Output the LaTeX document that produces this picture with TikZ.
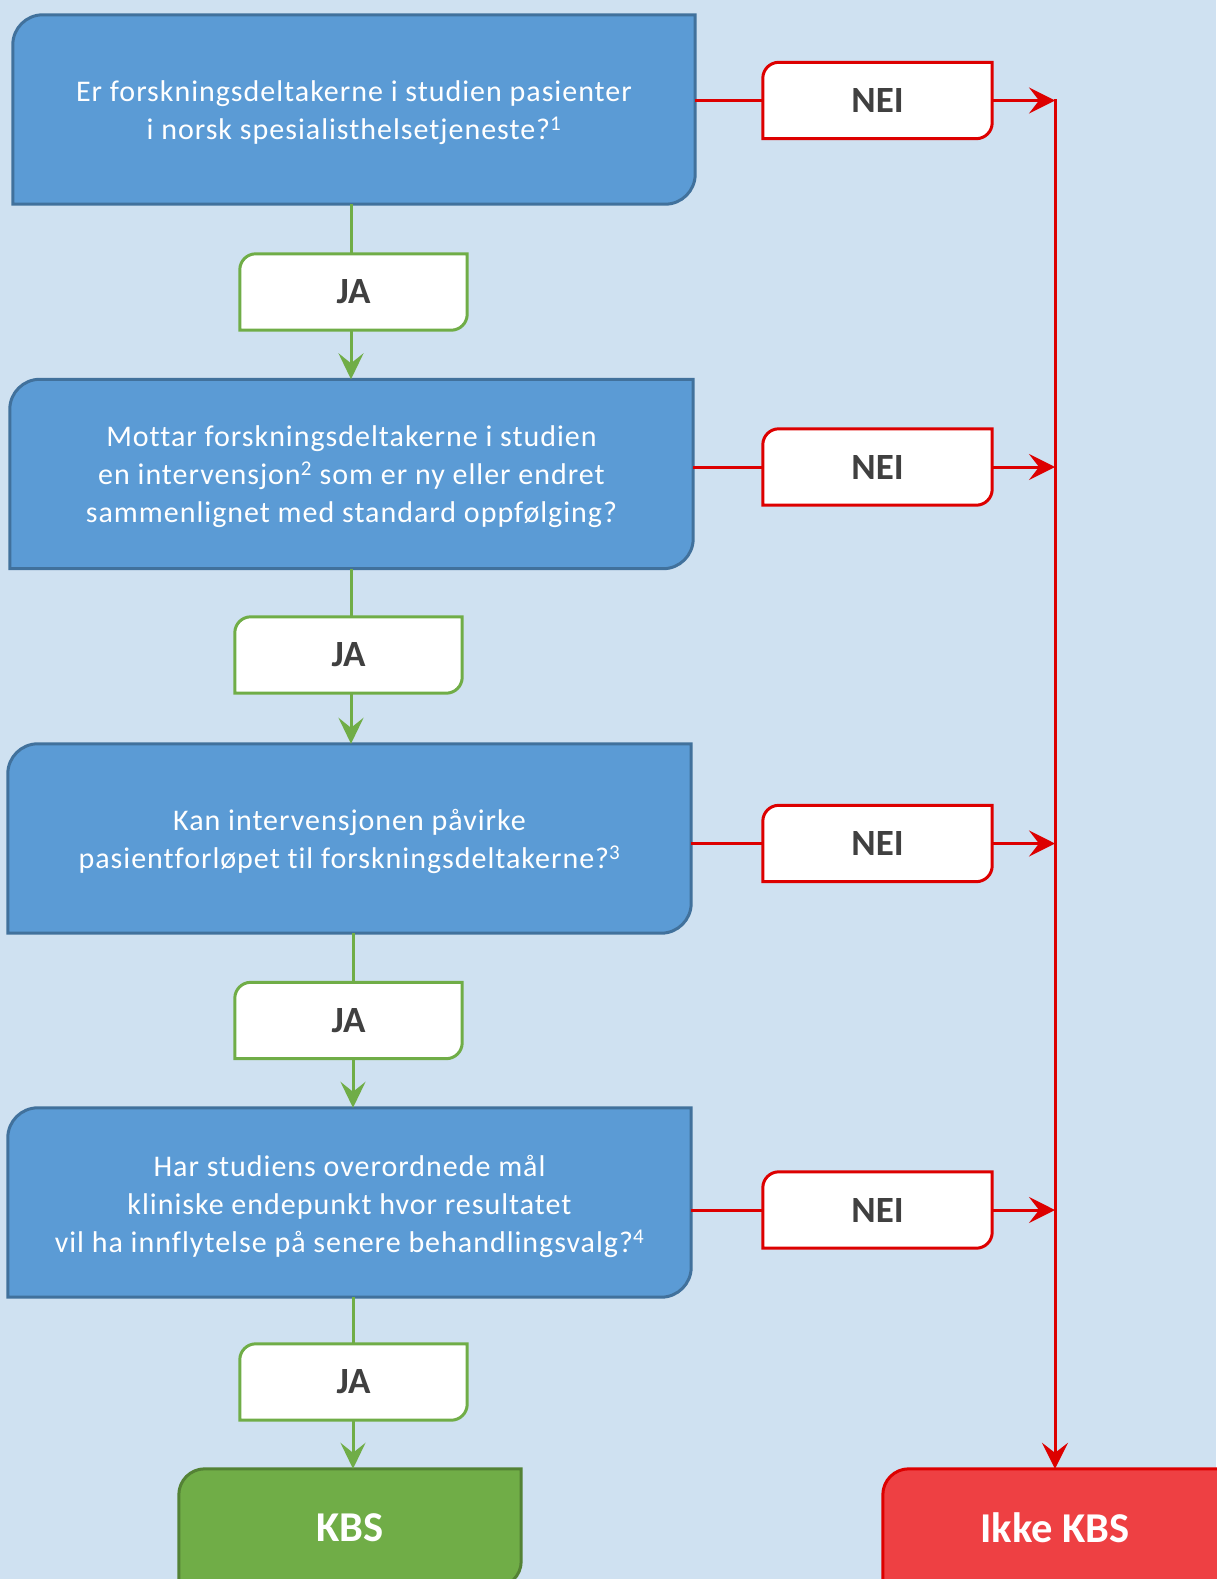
\documentclass[tikz,border=0pt]{standalone}
\usepackage{fontspec}
\setmainfont{Carlito}[Ligatures=NoCommon]
\newfontfamily\qfont{Carlito}[Ligatures=NoCommon, LetterSpace=3.3]
\usetikzlibrary{arrows.meta,backgrounds}
\definecolor{bgc}{RGB}{207,225,241}
\definecolor{qfill}{RGB}{91,155,213}
\definecolor{qdraw}{RGB}{65,113,156}
\definecolor{gline}{RGB}{112,173,71}
\definecolor{gdark}{RGB}{84,130,53}
\definecolor{rline}{RGB}{221,0,0}
\definecolor{rfill}{RGB}{238,64,67}
\definecolor{tgray}{RGB}{64,64,64}
\newcommand\cutbox[3]{%
  \path[#3] (#1.south west) -- ([yshift=-#2]#1.north west)
    arc[start angle=180,end angle=90,radius=#2] -- (#1.north east)
    -- ([yshift=#2]#1.south east)
    arc[start angle=0,end angle=-90,radius=#2] -- cycle;}
\tikzset{
  qbox/.style={inner sep=0pt, minimum width=683pt, minimum height=189pt},
  qtext/.style={inner sep=0pt, align=center, text=white,
    font=\qfont\fontsize{30}{38}\selectfont},
  lbl/.style={inner sep=0pt, text=tgray, font=\bfseries\fontsize{37}{42}\selectfont,
    minimum width=227pt, minimum height=76pt},
  endtext/.style={inner sep=0pt, text=white, font=\bfseries\fontsize{42.5}{48}\selectfont,
    minimum height=118pt},
  qshape/.style={fill=qfill, draw=qdraw, line width=3pt},
  jashape/.style={fill=white, draw=gline, line width=3pt},
  neishape/.style={fill=white, draw=rline, line width=3pt},
  kbsshape/.style={fill=gline, draw=gdark, line width=3pt},
  ikkeshape/.style={fill=rfill, draw=rline, line width=3pt},
  gconn/.style={draw=gline, line width=3pt},
  rconn/.style={draw=rline, line width=3pt},
  gtip/.style={gconn, -{Stealth[length=26pt,width=25pt,inset=10pt]}},
  rtip/.style={rconn, -{Stealth[length=26pt,width=26pt,inset=10pt]}}
}
\begin{document}
\begin{tikzpicture}[x=1pt,y=-1pt]
\begin{scope}[on background layer]
\fill[bgc] (0,0) rectangle (1216,1579);
\end{scope}
\useasboundingbox (0,0) rectangle (1216,1579);

% question boxes
\node[qbox, minimum width=682pt] (q1) at (354,109.5) {};
\node[qbox] (q2) at (351.5,474) {};
\node[qbox] (q3) at (349.5,838.5) {};
\node[qbox] (q4) at (349.5,1202.5) {};
\node[qtext] (q1t) at ([yshift=-3.5pt]q1.center) {Er forskningsdeltakerne i studien pasienter\\i norsk spesialisthelsetjeneste?\textsuperscript{1}};
\node[qtext] (q2t) at ([yshift=-3pt]q2.center) {Mottar forskningsdeltakerne i studien\\en intervensjon\textsuperscript{2} som er ny eller endret\\sammenlignet med standard oppfølging?};
\node[qtext] (q3t) at ([yshift=-3pt]q3.center) {Kan intervensjonen påvirke\\pasientforløpet til forskningsdeltakerne?\textsuperscript{3}};
\node[qtext] (q4t) at ([yshift=-3.5pt]q4.center) {Har studiens overordnede mål\\kliniske endepunkt hvor resultatet\\vil ha innflytelse på senere behandlingsvalg?\textsuperscript{4}};

% JA labels
\node[lbl] (ja1) at (353.5,292) {JA};
\node[lbl] (ja2) at (348.5,655) {JA};
\node[lbl] (ja3) at (348.5,1020.5) {JA};
\node[lbl] (ja4) at (353.5,1382) {JA};

% NEI labels
\node[lbl, minimum width=229pt] (n1) at (877.5,100.5) {NEI};
\node[lbl, minimum width=229pt] (n2) at (877.5,467) {NEI};
\node[lbl, minimum width=229pt] (n3) at (877.5,843.5) {NEI};
\node[lbl, minimum width=229pt] (n4) at (877.5,1210) {NEI};

% end boxes
\node[endtext, minimum width=342pt] (kbs) at (350,1528) {KBS};
\node[endtext, minimum width=344pt] (ikke) at (1055,1528) {Ikke KBS};

\coordinate (g1) at (351,0);
\coordinate (g2) at (353,0);

\begin{scope}[on background layer]
\cutbox{q1}{30pt}{qshape}
\cutbox{q2}{30pt}{qshape}
\cutbox{q3}{30pt}{qshape}
\cutbox{q4}{30pt}{qshape}
\cutbox{ja1}{16pt}{jashape}
\cutbox{ja2}{16pt}{jashape}
\cutbox{ja3}{16pt}{jashape}
\cutbox{ja4}{16pt}{jashape}
\cutbox{n1}{16pt}{neishape}
\cutbox{n2}{16pt}{neishape}
\cutbox{n3}{16pt}{neishape}
\cutbox{n4}{16pt}{neishape}
\cutbox{kbs}{26pt}{kbsshape}
\cutbox{ikke}{26pt}{ikkeshape}
\end{scope}

% green connectors
\draw[gconn] (q1.south -| g1) -- (ja1.north -| g1);
\draw[gtip] (ja1.south -| g1) -- (q2.north -| g1);
\draw[gconn] (q2.south -| g1) -- (ja2.north -| g1);
\draw[gtip] (ja2.south -| g1) -- (q3.north -| g1);
\draw[gconn] (q3.south -| g2) -- (ja3.north -| g2);
\draw[gtip] (ja3.south -| g2) -- (q4.north -| g2);
\draw[gconn] (q4.south -| g2) -- (ja4.north -| g2);
\draw[gtip] (ja4.south -| g2) -- (kbs.north -| g2);

% red connectors
\draw[rconn] (q1.east |- n1.west) -- (n1.west);
\draw[rconn] (q2.east |- n2.west) -- (n2.west);
\draw[rconn] (q3.east |- n3.west) -- (n3.west);
\draw[rconn] (q4.east |- n4.west) -- (n4.west);
\draw[rtip] (n1.east) -- (n1.east -| ikke.north);
\draw[rtip] (n2.east) -- (n2.east -| ikke.north);
\draw[rtip] (n3.east) -- (n3.east -| ikke.north);
\draw[rtip] (n4.east) -- (n4.east -| ikke.north);
\draw[rtip] ([yshift=1.5pt]n1.east -| ikke.north) -- (ikke.north);
\end{tikzpicture}
\end{document}
